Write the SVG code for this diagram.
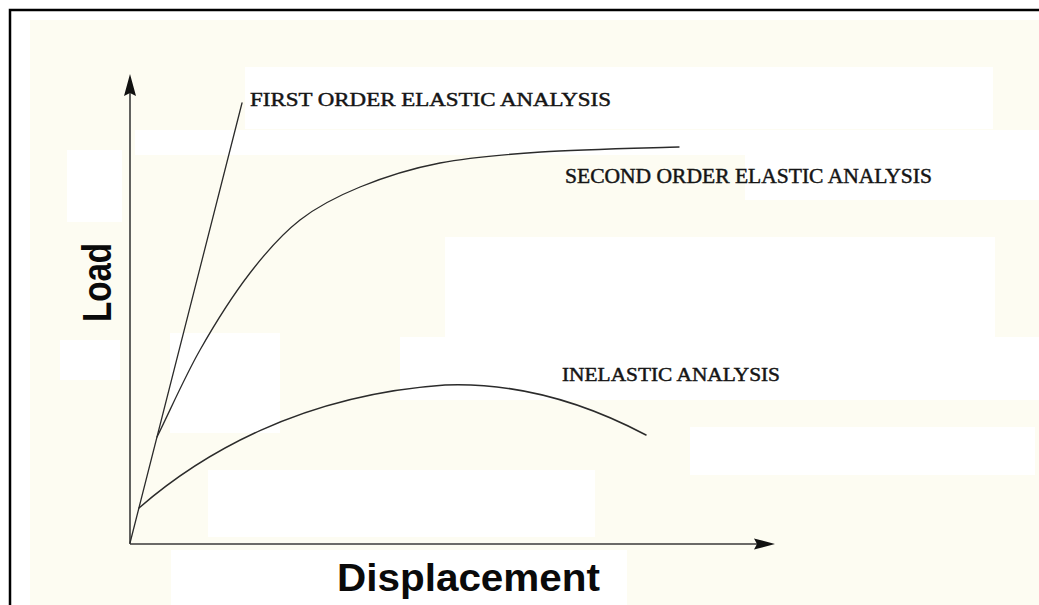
<svg xmlns="http://www.w3.org/2000/svg" width="1039" height="605" viewBox="0 0 1039 605">
  <style>
    .patch { fill: #ffffff; }
    .curve { fill: none; stroke: #2b2b2b; stroke-width: 1.3; stroke-linecap: round; stroke-linejoin: round; }
    .axis { fill: none; stroke: #3a3a3a; stroke-width: 1.6; }
    .head { fill: #111111; }
    .label { font-family: "Liberation Serif", "Times New Roman", serif; fill: #151515; stroke: #151515; stroke-width: 0.45; }
    .title { font-family: "Liberation Sans", Arial, sans-serif; font-weight: bold; fill: #0a0a0a; }
  </style>

  <!-- page and frame -->
  <rect x="0" y="0" width="1039" height="605" fill="#ffffff"/>
  <rect x="30" y="20" width="1009" height="585" fill="#fdfcf2"/>
  <path d="M10,605 V10 H1039" fill="none" stroke="#000" stroke-width="2.5"/>

  <!-- lighter background blocks -->
  <g id="background">
    <rect class="patch" x="245" y="67" width="748" height="62"/>
    <rect class="patch" x="135" y="130" width="904" height="25"/>
    <rect class="patch" x="745" y="155" width="294" height="45"/>
    <rect class="patch" x="67" y="150" width="55" height="72"/>
    <rect class="patch" x="445" y="237" width="550" height="100"/>
    <rect class="patch" x="400" y="337" width="639" height="63"/>
    <rect class="patch" x="690" y="427" width="345" height="48"/>
    <rect class="patch" x="208" y="470" width="387" height="67"/>
    <rect class="patch" x="171" y="550" width="456" height="55"/>
    <rect class="patch" x="60" y="340" width="60" height="40"/>
    <rect class="patch" x="170" y="333" width="110" height="100"/>
  </g>

  <!-- axes -->
  <g id="axes">
    <line class="axis" x1="130" y1="544" x2="130" y2="92"/>
    <path class="head" d="M130,74 L136,96 L130,93 L124,96 Z"/>
    <line class="axis" x1="130" y1="544" x2="757" y2="544"/>
    <path class="head" d="M775,544 L754,538.5 L757,544 L754,549.5 Z"/>
  </g>

  <!-- response curves -->
  <g id="connectors">
    <path id="first-order" class="curve" d="M130,543 L242,103"/>
    <path id="second-order" class="curve" d="M157,437 C171.3,408 184.5,377.3 200,350 C215.5,322.7 233.3,294.7 250,273 C266.7,251.3 281.7,234.3 300,220 C318.3,205.7 336.7,196.5 360,187 C383.3,177.5 409.8,168.8 440,163 C470.2,157.2 501.2,154.7 541,152 C580.8,149.3 656,147.8 679,147"/>
    <path id="inelastic" class="curve" style="stroke-width:1.5" d="M139,508 C200,455 300,395 445,385 C525,382 595,408 646,435"/>
  </g>

  <!-- curve labels -->
  <g id="label-first">
    <text class="label" x="250" y="106" font-size="19" textLength="361" lengthAdjust="spacingAndGlyphs">FIRST ORDER ELASTIC ANALYSIS</text>
  </g>
  <g id="label-second">
    <text class="label" x="565" y="183" font-size="20" textLength="367" lengthAdjust="spacingAndGlyphs">SECOND ORDER ELASTIC ANALYSIS</text>
  </g>
  <g id="label-inelastic">
    <text class="label" x="562" y="381" font-size="19" textLength="218" lengthAdjust="spacingAndGlyphs">INELASTIC ANALYSIS</text>
  </g>

  <!-- axis titles -->
  <g id="title-load">
    <text class="title" transform="translate(111,322) rotate(-90)" x="0" y="0" font-size="40" textLength="79" lengthAdjust="spacingAndGlyphs">Load</text>
  </g>
  <g id="title-displacement">
    <text class="title" x="337" y="591" font-size="38" textLength="263" lengthAdjust="spacingAndGlyphs">Displacement</text>
  </g>
</svg>
